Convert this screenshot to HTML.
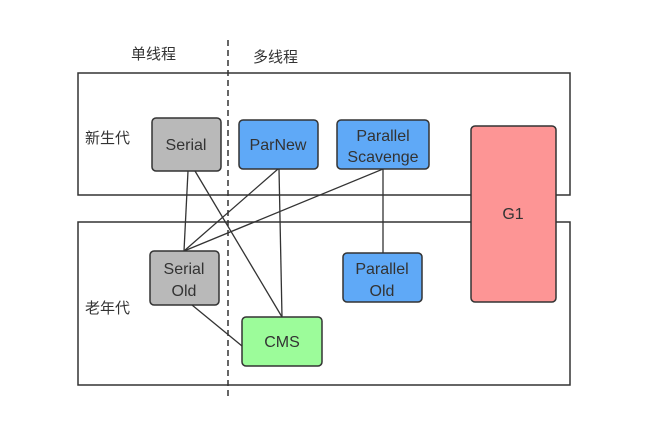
<!DOCTYPE html>
<html><head><meta charset="utf-8"><style>
body{margin:0;background:#fff;}
svg text{font-family:"Liberation Sans","Noto Sans CJK SC",sans-serif;}
</style></head><body>
<svg width="661" height="440" viewBox="0 0 661 440" xmlns="http://www.w3.org/2000/svg">
<rect x="78" y="73" width="492" height="122" fill="none" stroke="#333" stroke-width="1.5"/>
<rect x="78" y="222" width="492" height="163" fill="none" stroke="#333" stroke-width="1.5"/>
<line x1="228" y1="40" x2="228" y2="400" stroke="#333" stroke-width="1.5" stroke-dasharray="6,4"/>
<g stroke="#333" stroke-width="1.3">
<line x1="188" y1="171" x2="184" y2="251"/>
<line x1="195" y1="171" x2="282" y2="317"/>
<line x1="278" y1="169" x2="184" y2="251"/>
<line x1="279" y1="169" x2="282" y2="317"/>
<line x1="383" y1="169" x2="184" y2="251"/>
<line x1="383" y1="169" x2="383" y2="253"/>
<line x1="192" y1="305" x2="242" y2="346"/>
</g>
<g stroke="#333" stroke-width="1.5">
<rect x="152" y="118" width="69" height="53" rx="4" fill="#b9b9b9"/>
<rect x="239" y="120" width="79" height="49" rx="4" fill="#5fa9f7"/>
<rect x="337" y="120" width="92" height="49" rx="4" fill="#5fa9f7"/>
<rect x="471" y="126" width="85" height="176" rx="4" fill="#fd9595"/>
<rect x="150" y="251" width="69" height="54" rx="4" fill="#b9b9b9"/>
<rect x="343" y="253" width="79" height="49" rx="4" fill="#5fa9f7"/>
<rect x="242" y="317" width="80" height="49" rx="4" fill="#9cfc9a"/>
</g>
<g font-size="16" fill="#333" text-anchor="middle">
<text x="186" y="150">Serial</text>
<text x="278" y="150">ParNew</text>
<text x="383" y="141">Parallel</text>
<text x="383" y="162">Scavenge</text>
<text x="513" y="219">G1</text>
<text x="184" y="274">Serial</text>
<text x="184" y="296">Old</text>
<text x="382" y="274">Parallel</text>
<text x="382" y="296">Old</text>
<text x="282" y="347">CMS</text>
</g>
<g font-size="15" fill="#333">
<text x="131" y="59">单线程</text>
<text x="253" y="62">多线程</text>
<text x="85" y="143">新生代</text>
<text x="85" y="313">老年代</text>
</g>
</svg>
</body></html>
